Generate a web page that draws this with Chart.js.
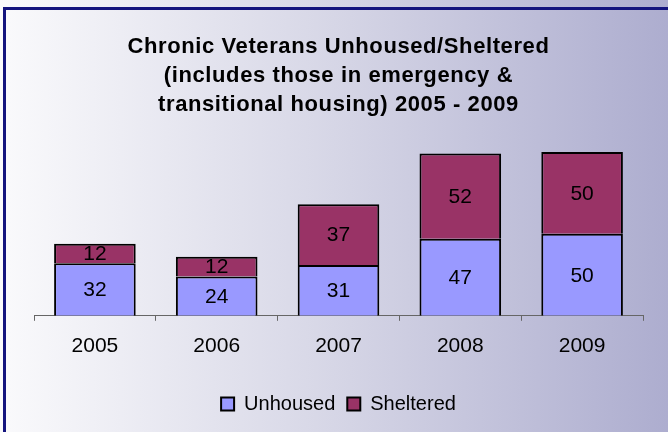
<!DOCTYPE html>
<html>
<head>
<meta charset="utf-8">
<script src="https://cdn.jsdelivr.net/npm/chart.js@4/dist/chart.umd.min.js"></script>
<style>
    html, body { margin: 0; padding: 0; }
    body {
        width: 668px; height: 432px; overflow: hidden; position: relative;
        background: linear-gradient(to right, #fafafc 0%, #d6d6e6 50%, #adadcf 100%);
    }
    #frame {
        position: absolute; left: 3px; top: 7px; right: 0; bottom: 0;
        border-top: 3px solid #14147e; border-left: 3px solid #14147e;
    }
    #mainChart { position: absolute; left: 0; top: 0; }
</style>
</head>
<body>
<div id="frame"></div>
<canvas id="mainChart" width="668" height="432"></canvas>
<script>
var years = ['2005', '2006', '2007', '2008', '2009'];
var unhoused = [32, 24, 31, 47, 50];
var sheltered = [12, 12, 37, 52, 50];
var titleLines = [
    'Chronic Veterans Unhoused/Sheltered',
    '(includes those in emergency &',
    'transitional housing) 2005 - 2009'
];

var fontFamily = '"Liberation Sans", Arial, sans-serif';

// Write the value in the middle of each bar segment
var valueLabels = {
    id: 'valueLabels',
    afterDatasetsDraw: function(chart) {
        var ctx = chart.ctx;
        ctx.save();
        ctx.font = '21px ' + fontFamily;
        ctx.fillStyle = '#000';
        ctx.textAlign = 'center';
        ctx.textBaseline = 'middle';
        chart.data.datasets.forEach(function(ds, i) {
            chart.getDatasetMeta(i).data.forEach(function(bar, j) {
                var p = bar.getProps(['x', 'y', 'base'], true);
                ctx.fillText(ds.data[j], p.x, (p.y + p.base) / 2 + 1);
            });
        });
        ctx.restore();
    }
};

var chartContainer = document.getElementById('mainChart');
var chartOptions = {
    type: 'bar',
    data: {
        labels: years,
        datasets: [
            {
                label: 'Unhoused',
                data: unhoused,
                backgroundColor: '#9999ff',
                borderColor: '#000',
                borderWidth: 2
            },
            {
                label: 'Sheltered',
                data: sheltered,
                backgroundColor: '#993366',
                borderColor: '#000',
                borderWidth: 2
            }
        ]
    },
    options: {
        responsive: false,
        animation: false,
        devicePixelRatio: 1,
        layout: { padding: { left: 34, right: 25, top: 0, bottom: 8 } },
        datasets: { bar: { categoryPercentage: 1, barPercentage: 0.67 } },
        scales: {
            x: {
                stacked: true,
                grid: { display: true, drawOnChartArea: false, drawTicks: true, tickLength: 5, color: '#666' },
                border: { display: true, color: '#666', width: 1 },
                ticks: { color: '#000', padding: 13, font: { family: fontFamily, size: 21 } },
                // extra room below the labels so the legend sits lower
                afterFit: function(scale) { scale.height += 10; }
            },
            y: {
                stacked: true,
                display: false,
                min: 0,
                max: 120
            }
        },
        plugins: {
            title: {
                display: true,
                text: titleLines,
                color: '#000',
                padding: { top: 32, bottom: 0 },
                font: { family: fontFamily, size: 22, weight: 'bold', lineHeight: 1.32 }
            },
            legend: {
                position: 'bottom',
                labels: {
                    color: '#000',
                    boxWidth: 13,
                    boxHeight: 13,
                    padding: 12,
                    font: { family: fontFamily, size: 20 }
                }
            },
            tooltip: { enabled: false }
        }
    },
    plugins: [valueLabels]
};
var mainChart = new Chart(chartContainer, chartOptions);

// Title letters are spaced a little wider in the original
var titleBox = mainChart.titleBlock;
if (titleBox) {
    var drawTitle = titleBox.draw;
    titleBox.draw = function() {
        var c = this.ctx;
        c.save();
        c.letterSpacing = '0.6px';
        drawTitle.apply(this, arguments);
        c.restore();
    };
    mainChart.draw();
}
</script>
</body>
</html>
